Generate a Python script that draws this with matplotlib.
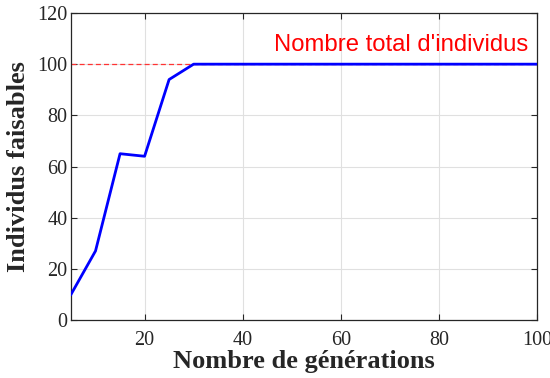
import numpy as np
import matplotlib
matplotlib.use("Agg")
import matplotlib.pyplot as plt

generations = [5, 10, 15, 20, 25, 30, 35, 40, 45, 50, 55, 60, 65, 70, 75, 80, 85, 90, 95, 100]
faisables = [10, 27, 65, 64, 94, 100, 100, 100, 100, 100, 100, 100, 100, 100, 100, 100, 100, 100, 100, 100]
total = 100

plt.rcParams['font.family'] = 'Liberation Serif'

fig = plt.figure(figsize=(5.5, 3.78), dpi=100)
ax = fig.add_axes([71/550, 1 - 320/378, (537-71)/550, (320-13)/378])

ax.axhline(total, color='#ff3333', linestyle=(0, (4, 2.5)), linewidth=0.9, zorder=2)
ax.plot(generations, faisables, color='#0000ff', linewidth=2, zorder=3)
ax.text(98.2, 103.2, "Nombre total d'individus", color='red', fontsize=17.2,
        family='Liberation Sans', ha='right', va='bottom')

ax.set_xlim(5, 100)
ax.set_ylim(0, 120)
ax.set_xticks([20, 40, 60, 80, 100])
ax.set_yticks(np.arange(0, 121, 20))
ax.grid(True, color='#e0e0e0', linewidth=0.8, zorder=0)
ax.set_axisbelow(True)
ax.tick_params(direction='in', labelsize=14.5, colors='#262626', length=4, width=0.8,
               top=True, right=True)
ax.tick_params(axis='x', pad=8)
ax.tick_params(axis='y', pad=2.5)
for s in ax.spines.values():
    s.set_color('#262626')
    s.set_linewidth(0.9)

ax.set_xlabel('Nombre de générations', fontsize=19, fontweight='bold', color='#262626', labelpad=0)
ax.set_ylabel('Individus faisables', fontsize=19, fontweight='bold', color='#262626', labelpad=5)

fig.savefig('out.png', dpi=100)
